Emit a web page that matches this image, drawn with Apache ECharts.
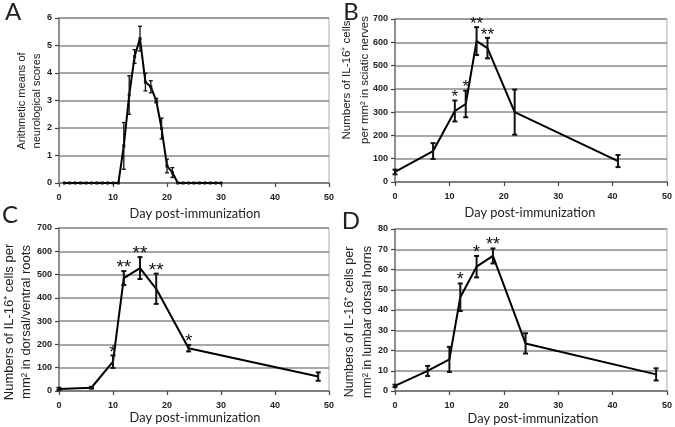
<!DOCTYPE html>
<html><head><meta charset="utf-8">
<script src="https://cdn.jsdelivr.net/npm/echarts@6/dist/echarts.min.js"></script>
<style>html,body{margin:0;padding:0;background:#fff}#c{width:675px;height:427px}</style>
</head><body><div id="c"></div><script>
// ---- data ----
const xTickMax = 50, xTickStep = 10;
const daysA = [1,2,3,4,5,6,7,8,9,10,11,12,13,14,15,16,17,18,19,20,21,22,23,24,25,26,27,28,29,30];
const scoresA = [0,0,0,0,0,0,0,0,0,0,0,1.35,3.2,4.6,5.25,3.67,3.5,3.0,1.98,0.62,0.38,0,0,0,0,0,0,0,0,0];
const errA =    [0,0,0,0,0,0,0,0,0,0,0,0.85,0.7,0.25,0.45,0.32,0.22,0.08,0.38,0.25,0.18,0,0,0,0,0,0,0,0,0];

const daysB = [0,7,11,13,15,17,22,41];
const cellsB = [43,133,305,335,605,575,300,90];
const errB = [10,34,45,57,60,44,97,26];
const starsB = ['','','*','*','**','**','',''];

const daysC = [0,6,10,12,15,18,24,48];
const cellsC = [9,14,126,485,528,439,184,62];
const errC = [5,4,27,30,47,65,14,18];
const starsC = ['','','*','**','**','**','*',''];

const daysD = [0,6,10,12,15,18,24,48];
const cellsD = [2.5,9.9,15.6,46.3,61.4,66.7,23.5,8.2];
const errD = [0.6,2.5,6.2,6.8,5.3,3.7,5,3];
const starsD = ['','','','*','*','**','',''];

const yMaxA = 6, yStepA = 1, yMaxB = 700, yStepB = 100, yMaxC = 700, yStepC = 100, yMaxD = 80, yStepD = 10;

// ---- layout ----
const grids = [
  {left:59, top:18, width:270, height:165},
  {left:395, top:19, width:273, height:163},
  {left:59, top:228, width:270, height:163},
  {left:395, top:229, width:274, height:162}
];
const FONT = '"Liberation Sans", Arial, sans-serif';

function xAx(i){
  return {type:'value', gridIndex:i, min:0, max:xTickMax, interval:xTickStep,
    axisLine:{show:true, lineStyle:{color:'#777', width:1.5}},
    axisTick:{show:true, inside:false, length:4, lineStyle:{color:'#444', width:1.2}},
    axisLabel:{color:'#222', fontSize:9, fontWeight:'bold', fontFamily:FONT, margin:10},
    splitLine:{show:false}};
}
function yAx(i, max, step){
  return {type:'value', gridIndex:i, min:0, max:max, interval:step,
    axisLine:{show:true, lineStyle:{color:'#777', width:1.5}},
    axisTick:{show:true, length:4, lineStyle:{color:'#444', width:1.2}},
    axisLabel:{color:'#222', fontSize:9, fontWeight:'bold', fontFamily:FONT, margin:7},
    splitLine:{show:true, lineStyle:{color:'#8a8a8a', width:1.6}}};
}
function errRender(stars, capHalf, lw, starSize){
  return function(params, api){
    const x = api.value(0), y = api.value(1), e = api.value(2);
    const t = api.coord([x, y + e]), b = api.coord([x, y - e]);
    const st = {stroke:'#111', lineWidth:lw};
    const ch = [];
    if (e > 0) {
      ch.push({type:'line', shape:{x1:t[0], y1:t[1], x2:b[0], y2:b[1]}, style:st});
      ch.push({type:'line', shape:{x1:t[0]-capHalf, y1:t[1], x2:t[0]+capHalf, y2:t[1]}, style:st});
      ch.push({type:'line', shape:{x1:b[0]-capHalf, y1:b[1], x2:b[0]+capHalf, y2:b[1]}, style:st});
    }
    const s = stars ? stars[params.dataIndex] : '';
    if (s) ch.push({type:'text', x:t[0], y:t[1]-3, style:{text:s, fill:'#111', font:starSize + 'px ' + FONT, align:'center', verticalAlign:'middle'}});
    return {type:'group', children:ch};
  };
}
function lineS(i, days, vals, sym){
  return {type:'line', xAxisIndex:i, yAxisIndex:i, data:days.map((d,k)=>[d, vals[k]]),
    symbol: sym ? 'rect' : 'none', symbolSize:3, itemStyle:{color:'#111'},
    lineStyle:{color:'#000', width:2}, animation:false, z:3};
}
function errS(i, days, vals, errs, stars, capHalf, lw, starSize){
  return {type:'custom', xAxisIndex:i, yAxisIndex:i, data:days.map((d,k)=>[d, vals[k], errs[k]]),
    encode:{x:0, y:1}, renderItem:errRender(stars, capHalf, lw, starSize), animation:false, z:4, clip:false};
}
function vText(x, y, text, size, lh){
  return {type:'text', x:x, y:y, rotation:Math.PI/2,
    style:{text:text, font:size + 'px ' + FONT, fill:'#222', align:'center', verticalAlign:'middle', lineHeight:lh}};
}
function hText(x, y, text, size, family){
  return {type:'text', x:x, y:y,
    style:{text:text, font:size + 'px ' + family, fill:'#222', align:'center', verticalAlign:'middle'}};
}
const TF = 'Lato, "Open Sans", sans-serif';

const option = {
  backgroundColor:'#fff',
  animation:false,
  grid: grids.map(g => Object.assign({show:true, borderColor:'#aaa', borderWidth:1, containLabel:false}, g)),
  xAxis:[xAx(0), xAx(1), xAx(2), xAx(3)],
  yAxis:[yAx(0, yMaxA, yStepA), yAx(1, yMaxB, yStepB), yAx(2, yMaxC, yStepC), yAx(3, yMaxD, yStepD)],
  series:[
    lineS(0, daysA, scoresA, true), errS(0, daysA, scoresA, errA, null, 2, 1.3, 16),
    lineS(1, daysB, cellsB, false), errS(1, daysB, cellsB, errB, starsB, 2.5, 2, 17),
    lineS(2, daysC, cellsC, false), errS(2, daysC, cellsC, errC, starsC, 2.5, 2, 19),
    lineS(3, daysD, cellsD, false), errS(3, daysD, cellsD, errD, starsD, 2.5, 2, 18)
  ],
  graphic:[
    vText(29.5, 101, 'Arithmetic means of\nneurological scores', 11, 15),
    vText(356, 80, 'Numbers of IL-16\u207A cells\nper mm\u00B2 in sciatic nerves', 11.5, 18),
    vText(17.5, 322, 'Numbers of IL-16\u207A cells per\nmm\u00B2 in dorsal/ventral roots', 13, 17),
    vText(359, 322, 'Numbers of IL-16\u207A cells per\nmm\u00B2 in lumbar dorsal horns', 12.5, 18),
    hText(195, 214, 'Day post-immunization', 12.8, TF),
    hText(530, 213, 'Day post-immunization', 12.8, TF),
    hText(195, 418, 'Day post-immunization', 12.8, TF),
    hText(533, 419, 'Day post-immunization', 12.8, TF),
    hText(13, 12, 'A', 24, TF),
    hText(351, 12, 'B', 24, TF),
    hText(10, 215, 'C', 24, TF),
    hText(351, 221, 'D', 24, TF)
  ]
};
echarts.init(document.getElementById('c')).setOption(option);
</script></body></html>
